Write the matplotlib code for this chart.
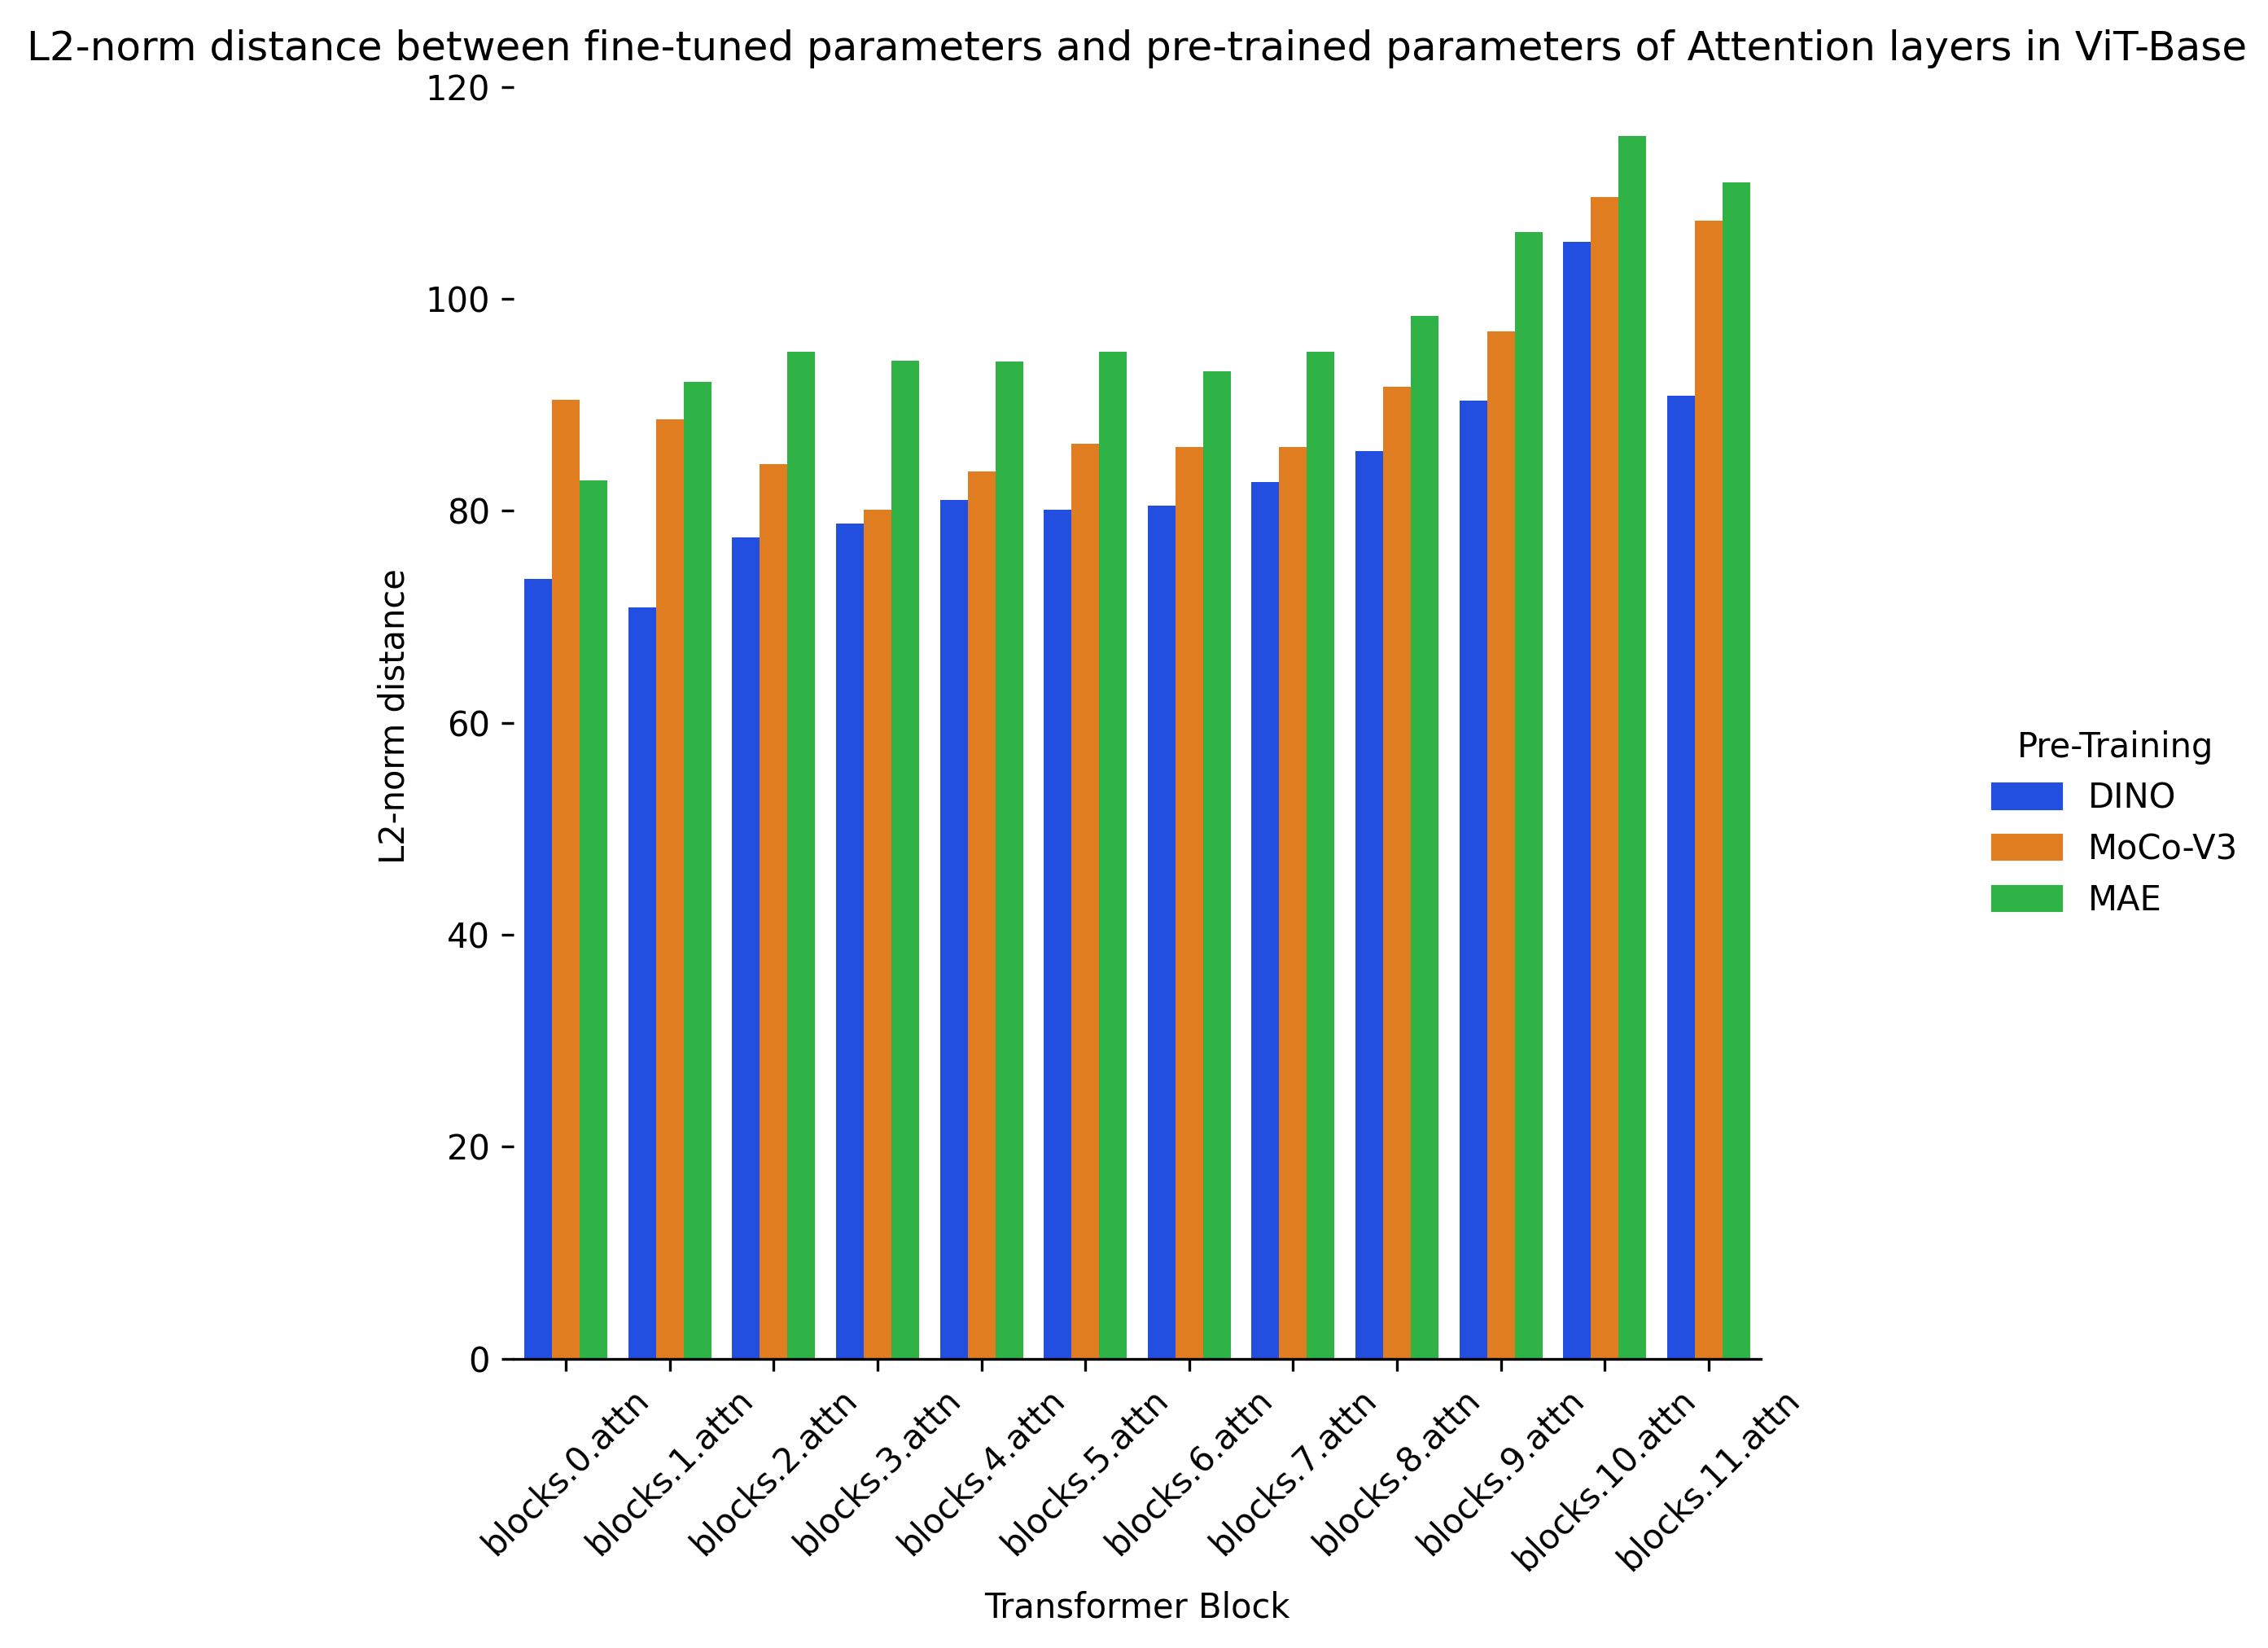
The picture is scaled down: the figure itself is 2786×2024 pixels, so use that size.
import matplotlib
matplotlib.use("Agg")
from matplotlib import pyplot as plt
from matplotlib.patches import Patch
import numpy as np
import seaborn as sns

blocks = [f"blocks.{i}.attn" for i in range(12)]
methods = ["DINO", "MoCo-V3", "MAE"]
dino = [73.6, 70.9, 77.5, 78.8, 81.0, 80.1, 80.5, 82.7, 85.6, 90.4, 105.4, 90.9]
moco = [90.5, 88.6, 84.4, 80.1, 83.7, 86.3, 86.0, 86.0, 91.7, 96.9, 109.6, 107.4]
mae = [82.9, 92.2, 95.0, 94.2, 94.1, 95.0, 93.2, 95.0, 98.4, 106.3, 115.4, 111.0]

colors = [sns.desaturate(c, 0.75) for c in sns.color_palette("bright", 3)]

fig = plt.figure(figsize=(2787 / 300, 2024 / 300), dpi=300)
ax = fig.add_axes([0.2265, 0.1755, 0.5495, 0.7795])

x = np.arange(len(blocks))
w = 0.8 / 3
for i, (vals, c) in enumerate(zip([dino, moco, mae], colors)):
    ax.bar(x + (i - 1) * w, vals, width=w, color=c, label=methods[i])

ax.set_xlim(-0.5, len(blocks) - 0.5)
ax.set_ylim(0, 121.2)
ax.set_xticks(x)
ax.set_xticklabels(blocks, rotation=45)
ax.set_yticks(range(0, 121, 20))
ax.set_xlabel("Transformer Block")
ax.set_ylabel("L2-norm distance")
ax.set_title("L2-norm distance between fine-tuned parameters and pre-trained parameters of Attention layers in ViT-Base",
             pad=4)
for s in ["top", "right", "left"]:
    ax.spines[s].set_visible(False)

handles = [Patch(color=c, label=m) for c, m in zip(colors, methods)]
fig.legend(handles=handles, title="Pre-Training", frameon=False,
           loc="center left", bbox_to_anchor=(0.865, 0.5))

fig.savefig("out.png", dpi=300)
